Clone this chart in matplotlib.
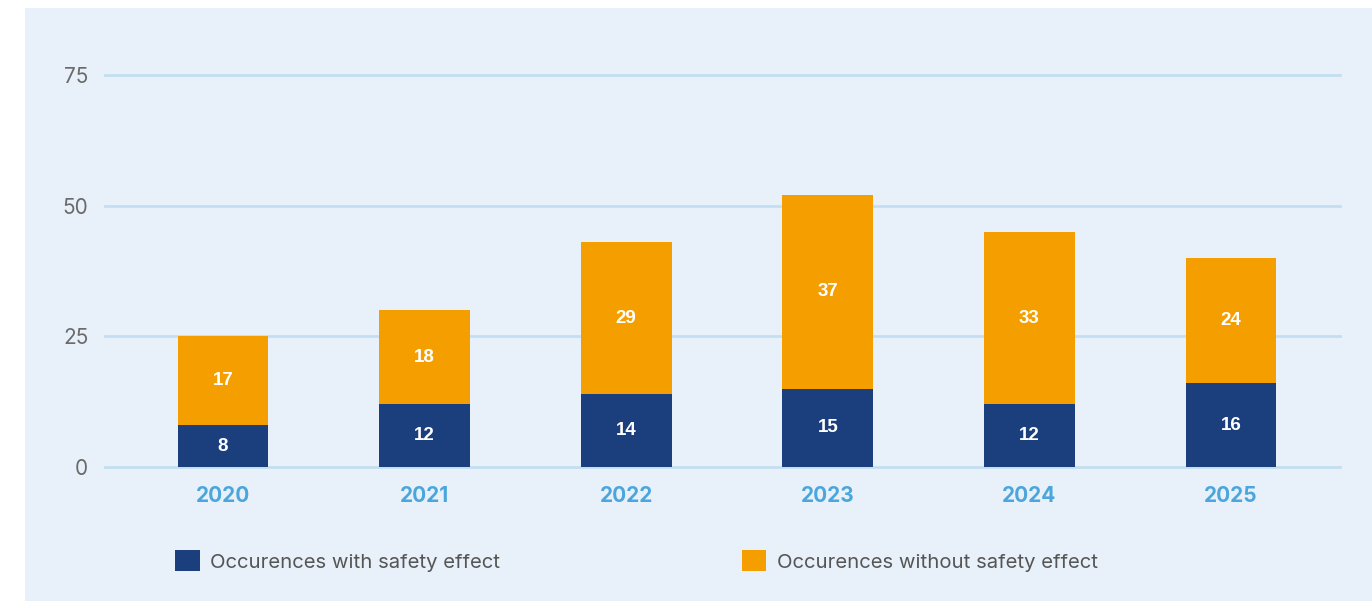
import matplotlib
matplotlib.use('Agg')
import matplotlib.pyplot as plt
from matplotlib.patches import Rectangle, Patch
import numpy as np

plt.rcParams['font.family'] = ['Inter', 'DejaVu Sans']

years = ['2020', '2021', '2022', '2023', '2024', '2025']
with_effect = [8, 12, 14, 15, 12, 16]
without_effect = [17, 18, 29, 37, 33, 24]
y_ticks = [0, 25, 50, 75]

navy = '#1b3f7d'
orange = '#f49e00'
panel = '#e8f1f9'
grid_col = '#c3def2'

W, H = 1372, 601
fig = plt.figure(figsize=(W / 100, H / 100), dpi=100)
fig.patch.set_facecolor('white')
# light blue panel behind everything
fig.patches.append(Rectangle((25 / W, 0), 1, (H - 8) / H, transform=fig.transFigure,
                             facecolor=panel, edgecolor='none', zorder=-10))

ax = fig.add_axes([105 / W, (H - 467) / H, (1340 - 105) / W, 78 * 5.227 / H])
ax.set_facecolor('none')

x = np.arange(len(years))
w = 0.45
ax.bar(x, with_effect, width=w, color=navy, zorder=3)
ax.bar(x, without_effect, width=w, bottom=with_effect, color=orange, zorder=3)

lab_font = ['Liberation Sans', 'DejaVu Sans']
for i in range(len(years)):
    ax.text(x[i], with_effect[i] / 2, str(with_effect[i]), ha='center', va='center',
            color='white', fontsize=13.5, fontweight='bold', family=lab_font, zorder=4)
    ax.text(x[i], with_effect[i] + without_effect[i] / 2, str(without_effect[i]),
            ha='center', va='center', color='white', fontsize=13.5, fontweight='bold',
            family=lab_font, zorder=4)

ax.set_xlim(-0.585, 5.54)
ax.set_ylim(0, 78)
ax.set_yticks(y_ticks)
ax.set_yticklabels([str(v) for v in y_ticks], color='#6a6a6a', fontsize=15)
ax.set_xticks(x)
ax.set_xticklabels(years, color='#4aa6dc', fontsize=15, fontweight='bold')
ax.tick_params(axis='both', length=0)
ax.tick_params(axis='y', pad=12)
ax.tick_params(axis='x', pad=14)
for s in ax.spines.values():
    s.set_visible(False)
ax.yaxis.grid(True, color=grid_col, linewidth=2)
ax.set_axisbelow(True)
for gl in ax.get_ygridlines():
    gl.set_clip_on(False)

handles = [Patch(facecolor=navy, edgecolor='none'), Patch(facecolor=orange, edgecolor='none')]
fig.legend(handles, ['Occurences with safety effect', 'Occurences without safety effect'],
           loc='center left', bbox_to_anchor=(157 / W, (H - 561) / H), ncol=2,
           frameon=False, fontsize=14.6, labelcolor='#555555', handlelength=1.2,
           handleheight=1.2, handletextpad=0.5, columnspacing=11.95)

fig.savefig('out.png', dpi=100)
